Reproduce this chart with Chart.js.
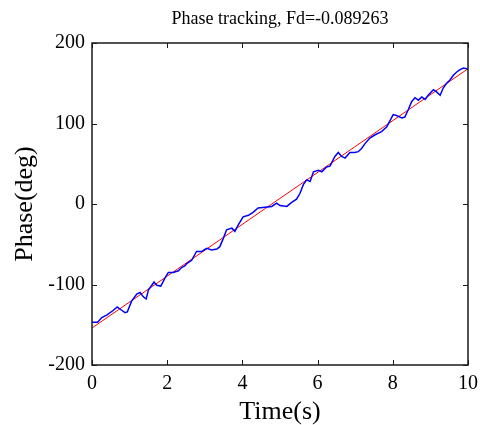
<!DOCTYPE html>
<html>
<head>
<meta charset="utf-8">
<script src="https://cdn.jsdelivr.net/npm/chart.js@4.4.1/dist/chart.umd.min.js"></script>
<style>
html,body{margin:0;padding:0;background:#fff;}
#wrap{width:480px;height:425px;}
</style>
</head>
<body>
<div id="wrap"><canvas id="c" width="480" height="425"></canvas></div>
<script>
const titleText = "Phase tracking, Fd=-0.089263";
const xLabel = "Time(s)";
const yLabel = "Phase(deg)";
const xTicks = [0, 2, 4, 6, 8, 10];
const yTicks = [-200, -100, 0, 100, 200];

const measuredTime = [0.00,0.15,0.26,0.39,0.57,0.67,0.79,0.88,0.94,1.05,1.19,1.28,1.36,1.44,1.50,1.59,1.65,1.72,1.83,1.94,2.03,2.16,2.30,2.38,2.47,2.52,2.65,2.78,2.92,3.05,3.18,3.32,3.40,3.49,3.58,3.72,3.80,3.89,4.02,4.16,4.29,4.42,4.60,4.78,4.91,5.00,5.18,5.31,5.44,5.53,5.62,5.71,5.80,5.89,6.02,6.11,6.24,6.33,6.46,6.55,6.64,6.73,6.86,6.99,7.08,7.17,7.26,7.39,7.53,7.70,7.84,7.93,8.01,8.10,8.24,8.32,8.41,8.50,8.59,8.68,8.77,8.86,8.94,9.08,9.17,9.26,9.34,9.43,9.52,9.61,9.70,9.79,9.88,9.96,10.0];
const measuredPhase = [-147,-147,-141,-138,-132,-128,-132,-135,-134,-121,-112,-110,-115,-118,-107,-101,-97,-101,-102,-92,-85,-85,-83,-79,-77,-74,-70,-59,-59,-55,-57,-56,-53,-43,-32,-30,-34,-26,-16,-14,-10,-5,-4,-3,1,-2,-3,2,6,13,24,30,28,40,42,40,46,47,59,64,59,57,64,64,65,69,75,82,86,90,96,104,111,110,107,108,117,127,132,129,133,130,135,142,139,135,144,150,154,160,164,167,169,168,168];

const fitTime = [0, 10];
const fitPhase = [-154, 168];

const toXY = (xs, ys) => xs.map((x, i) => ({x: x, y: ys[i]}));

const FONT = "'Liberation Serif', 'Times New Roman', serif";

const boxPlugin = {
  id: 'boxPlugin',
  afterDraw(chart) {
    const ctx = chart.ctx;
    const a = chart.chartArea;
    const xs = chart.scales.x, ys = chart.scales.y;
    ctx.save();
    ctx.strokeStyle = '#1a1a1a';
    ctx.lineWidth = 1.5;
    ctx.strokeRect(a.left, a.top, a.right - a.left, a.bottom - a.top);
    ctx.lineWidth = 1;
    const L = 5;
    ctx.beginPath();
    xTicks.forEach(v => {
      const px = Math.round(xs.getPixelForValue(v)) + 0.5;
      ctx.moveTo(px, a.bottom); ctx.lineTo(px, a.bottom - L);
      ctx.moveTo(px, a.top); ctx.lineTo(px, a.top + L);
    });
    yTicks.forEach(v => {
      const py = Math.round(ys.getPixelForValue(v)) + 0.5;
      ctx.moveTo(a.left, py); ctx.lineTo(a.left + L, py);
      ctx.moveTo(a.right, py); ctx.lineTo(a.right - L, py);
    });
    ctx.stroke();
    ctx.fillStyle = '#000';
    ctx.textAlign = 'center';
    ctx.textBaseline = 'alphabetic';
    ctx.font = '18px ' + FONT;
    ctx.fillText(titleText, (a.left + a.right) / 2, 24);
    ctx.font = '26px ' + FONT;
    ctx.fillText(xLabel, (a.left + a.right) / 2, 419);
    ctx.translate(32, (a.top + a.bottom) / 2);
    ctx.rotate(-Math.PI / 2);
    ctx.fillText(yLabel, 0, 0);
    ctx.restore();
  }
};

new Chart(document.getElementById('c'), {
  type: 'line',
  data: {
    datasets: [
      {
        label: 'measured',
        data: toXY(measuredTime, measuredPhase),
        borderColor: '#0000ff',
        borderWidth: 1.5,
        pointRadius: 0,
        tension: 0,
        fill: false
      },
      {
        label: 'fit',
        data: toXY(fitTime, fitPhase),
        borderColor: '#ff0000',
        borderWidth: 1,
        pointRadius: 0,
        tension: 0,
        fill: false
      }
    ]
  },
  options: {
    responsive: false,
    animation: false,
    layout: { padding: { top: 43, right: 12, left: 0, bottom: 0 } },
    plugins: { legend: { display: false }, title: { display: false }, tooltip: { enabled: false } },
    scales: {
      x: {
        type: 'linear',
        min: 0, max: 10,
        afterFit(s) { s.height = 60; s.paddingLeft = 0; s.paddingRight = 0; },
        afterBuildTicks(s) { s.ticks = xTicks.map(v => ({value: v})); },
        grid: { display: false, drawTicks: false },
        border: { display: false },
        ticks: { color: '#000', font: { family: FONT, size: 20 }, padding: 7, maxRotation: 0, autoSkip: false }
      },
      y: {
        type: 'linear',
        min: -200, max: 200,
        afterFit(s) { s.width = 92; s.paddingTop = 0; s.paddingBottom = 0; },
        afterBuildTicks(s) { s.ticks = yTicks.map(v => ({value: v})); },
        grid: { display: false, drawTicks: false },
        border: { display: false },
        ticks: { color: '#000', font: { family: FONT, size: 20 }, padding: 7, autoSkip: false }
      }
    }
  },
  plugins: [boxPlugin]
});
</script>
</body>
</html>
